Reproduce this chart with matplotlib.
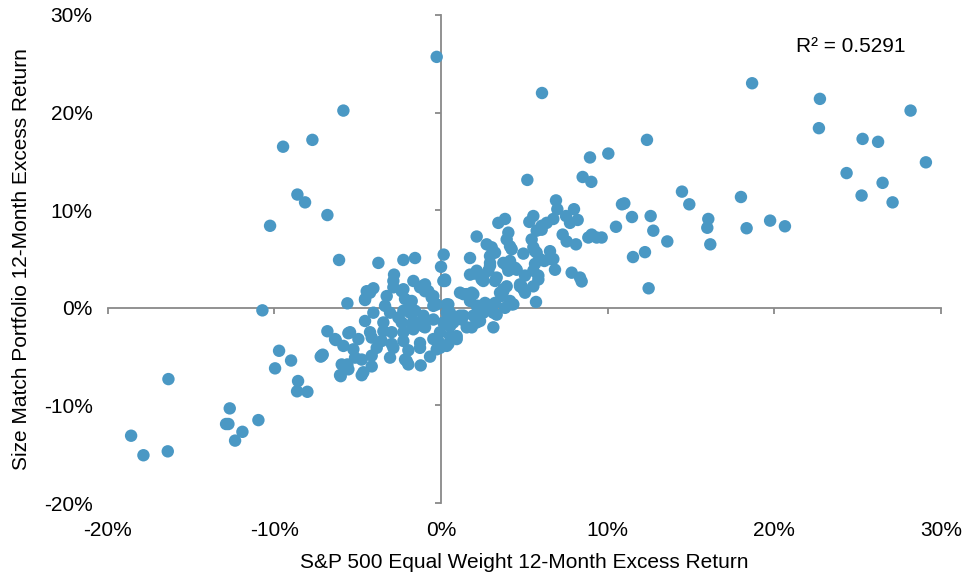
import matplotlib
matplotlib.use("Agg")
import matplotlib.pyplot as plt
from matplotlib.ticker import FuncFormatter, NullFormatter

plt.rcParams['font.family'] = ['Liberation Sans', 'DejaVu Sans']

# S&P 500 Equal Weight 12-month excess return (%)
x_vals = [
    -0.26, -5.86, -7.72, -9.48, -8.62, -8.16, -6.82, -10.26,
    -6.12, -3.76, -2.26, -1.56, -2.82, 0.16, 0.0, 0.24,
    2.14, 1.74, 1.74, 2.04,
    18.67, 22.74, 22.68, 28.18, 25.3, 26.23, 29.1, 24.34, 26.5, 25.24, 27.1,
    12.36, 10.04, 18.0, 18.34, 19.75, 20.64, 14.46, 14.9, 16.04, 15.98, 16.16,
    10.86, 11.0, 11.46, 12.58, 10.5, 12.74, 13.58, 9.64, 12.24, 11.52, 12.46,
    6.06, 8.94,
    5.18, 8.5, 9.02, 6.9, 6.98, 7.98, 7.5, 7.74, 8.2, 5.54, 5.3, 3.84, 3.44,
    6.34, 6.74, 6.04, 5.74, 5.44, 5.64, 9.04, 8.84, 9.34, 7.3, 7.54, 8.1,
    6.54, 6.74, 6.84, 7.84, 2.74, 3.04, 4.04, 3.94, 4.14, 4.24, 4.94, 2.94,
    2.94, 3.74, 4.14, 4.44, 5.64, 5.94, 6.54, 5.04, 5.84, 2.14, 2.84, 8.34,
    5.54, 5.74, 6.2, 3.94, 4.54, 3.24, 2.94, 2.44, 5.54, 6.04,
    8.44, 5.84, 4.84, 5.04, 5.54, 5.7, 4.14, 4.34, 3.74, 3.64, 3.94, 3.24,
    3.14, 3.14, 2.54, 3.34, 1.94, 2.24, 2.64, 2.54, 1.94, 2.14, 1.84, 4.04,
    4.94, 4.74, 3.84, 3.74, 1.84, 1.74, 3.24,
    -0.66, -1.22, -1.96, -2.16, -1.96, -1.26, -1.26, -0.06, -0.46, 0.44,
    0.94, 1.54, -2.26, -0.96, 0.24, 1.24, 2.34, 3.34, 4.24, 4.74, 3.54,
    2.74, 2.14, 1.34, 1.54, 1.14, 0.44, 0.34, 0.14, -0.46, -0.46, -0.76,
    -1.16, -1.06, -1.66, -1.86, -2.26, -2.36, -2.26, -1.66, 0.14, 2.54,
    -0.06, -0.26, -0.16,
    -5.62, -4.56, -4.26, -4.06, -3.36, -3.26, -2.86, -2.36, -2.16, -1.26,
    -0.96, -0.56, -0.26, -1.76, -4.06, -4.56, -3.06, -2.56, -1.86, -1.56,
    -1.06, -0.46, -1.06, -1.76, -1.66, -3.46, -3.46, -5.46, -4.96, -4.26,
    -4.16, -3.86, -2.96, -2.96, -3.56, -2.86, -2.26, -2.06, -3.06, -4.16,
    -4.16, -4.76, -4.66, -5.16, -5.26, -5.86, -5.96, -5.56, 0.34, 0.54,
    0.94, 1.14, 0.74, 1.34, 0.34, 0.54, 0.54, -0.96, 0.24, -1.66, -2.86,
    -1.16,
    -6.82, -7.16, -6.36, -6.06, -4.76, -4.46, -4.56,
    -10.72, -6.32, -5.56, -9.72, -9.0, -9.96, -7.22, -7.1, -8.58, -8.64,
    -8.02, -6.02, -5.62, -16.36, -12.68, -12.9, -12.76, -11.92, -10.96,
    -12.36, -18.6, -17.86, -16.4,
]

# Size Match Portfolio 12-month excess return (%)
y_vals = [
    25.7, 20.2, 17.2, 16.5, 11.6, 10.8, 9.5, 8.4,
    4.9, 4.6, 4.9, 5.1, 3.4, 5.45, 4.2, 2.9,
    7.3, 5.1, 3.4, 3.5,
    23.0, 21.4, 18.4, 20.2, 17.3, 17.0, 14.9, 13.8, 12.8, 11.5, 10.8,
    17.2, 15.8, 11.35, 8.15, 8.93, 8.35, 11.9, 10.6, 9.1, 8.2, 6.5,
    10.6, 10.7, 9.3, 9.4, 8.3, 7.9, 6.8, 7.2, 5.7, 5.2, 2.0,
    22.0, 15.4,
    13.1, 13.4, 12.9, 11.0, 10.1, 10.1, 9.4, 8.7, 9.0, 9.4, 8.8, 9.1, 8.7,
    8.7, 9.1, 8.0, 7.9, 7.0, 5.8, 7.5, 7.2, 7.2, 7.5, 6.8, 6.5,
    5.8, 5.0, 3.9, 3.6, 6.5, 6.2, 7.7, 7.0, 6.3, 6.0, 5.55, 5.3,
    4.6, 4.6, 4.8, 4.1, 4.5, 5.0, 5.0, 3.3, 3.3, 3.8, 3.8, 3.1,
    6.2, 5.65, 4.8, 4.3, 3.9, 5.65, 4.3, 2.9, 3.8, 8.4,
    2.7, 2.9, 2.2, 1.55, 2.2, 0.6, 0.7, 0.36, 1.7, 1.2, 2.2, 0.5,
    -2.0, -0.5, 3.3, 3.1, 1.4, 0.2, 0.5, -0.5, -0.8, -1.5, -2.0, 3.8,
    1.9, 2.4, 0.0, 1.9, 1.55, 0.7, 2.75,
    -5.0, -5.9, -5.8, -5.3, -4.35, -3.6, -4.1, -4.1, -3.2, -3.7,
    -2.9, -2.0, -2.5, -2.0, -1.5, -1.2, -1.35, -0.7, 0.35, 2.2, 1.55,
    0.35, 0.2, -0.8, 1.4, 1.55, 0.35, -0.5, -1.5, 0.2, 1.2, 1.7,
    2.1, -1.2, -0.3, 0.2, -0.3, -1.5, 1.9, -1.35, 2.75, 2.75,
    -2.5, -4.25, -3.4,
    0.46, 0.8, 1.55, 2.0, 0.2, 1.2, 2.1, 1.7, 0.9, 2.1,
    1.7, 1.05, 0.35, 0.7, -0.5, -1.35, -0.5, -1.0, -0.5, -0.3,
    -0.8, -1.2, -1.9, -1.7, -2.2, -1.5, -2.4, -2.5, -3.2, -2.5,
    -3.05, -4.1, -2.5, -3.7, -3.4, -4.1, -3.4, -5.45, -5.1, -4.9,
    -6.0, -5.3, -6.6, -5.1, -4.25, -3.9, -5.8, -6.3, -3.9, -2.9,
    -3.2, -0.8, -1.5, 1.4, 0.35, -0.5, -1.9, 2.4, 2.75, 2.75, 2.75,
    2.2,
    -2.4, -4.9, -3.2, -6.9, -6.9, 1.7, 0.9,
    -0.26, -3.3, -2.6, -4.4, -5.4, -6.2, -5.0, -4.8, -7.5, -8.55,
    -8.6, -7.0, -5.8, -7.3, -10.3, -11.9, -11.9, -12.7, -11.5,
    -13.6, -13.1, -15.1, -14.7,
]

x_ticks = [-20, -10, 0, 10, 20, 30]
y_ticks = [-20, -10, 0, 10, 20, 30]
x_label = "S&P 500 Equal Weight 12-Month Excess Return"
y_label = "Size Match Portfolio 12-Month Excess Return"
r2_text = "R\u00b2 = 0.5291"

axis_grey = "#898989"
dot_color = "#4A98C4"
fs = 15

fig = plt.figure(figsize=(9.71, 5.73), dpi=100)
ax = fig.add_axes([0.111, 0.122, 0.858, 0.852])

ax.scatter(x_vals, y_vals, s=80, color=dot_color, edgecolors="none",
           linewidths=0, zorder=3)

ax.set_xlim(x_ticks[0], x_ticks[-1])
ax.set_ylim(y_ticks[0], y_ticks[-1])
ax.set_xticks(x_ticks)
ax.set_yticks(y_ticks)
pct = FuncFormatter(lambda v, p: f"{v:.0f}%")
ax.xaxis.set_major_formatter(pct)
ax.yaxis.set_major_formatter(pct)
for s in ax.spines.values():
    s.set_visible(False)
ax.tick_params(axis="x", length=0, pad=13, labelsize=fs, colors="black")
ax.tick_params(axis="y", length=0, pad=11, labelsize=fs, colors="black")

# axis lines crossing at zero
secx = ax.secondary_xaxis(0, transform=ax.transData)
secx.set_xticks(x_ticks)
secx.xaxis.set_major_formatter(NullFormatter())
secx.spines["bottom"].set_color(axis_grey)
secx.spines["bottom"].set_linewidth(1.3)
secx.tick_params(axis="x", direction="out", length=4.5, width=1.3, color=axis_grey)

secy = ax.secondary_yaxis(0, transform=ax.transData)
secy.set_yticks(y_ticks)
secy.yaxis.set_major_formatter(NullFormatter())
secy.spines["left"].set_color(axis_grey)
secy.spines["left"].set_linewidth(1.3)
secy.tick_params(axis="y", direction="out", length=4.5, width=1.3, color=axis_grey)

ax.set_xlabel(x_label, fontsize=fs, labelpad=9)
ax.set_ylabel(y_label, fontsize=fs, labelpad=9)

ax.text(0.826, 0.935, r2_text, transform=ax.transAxes, fontsize=fs,
        ha="left", va="center")

fig.savefig("out.png", dpi=100)
